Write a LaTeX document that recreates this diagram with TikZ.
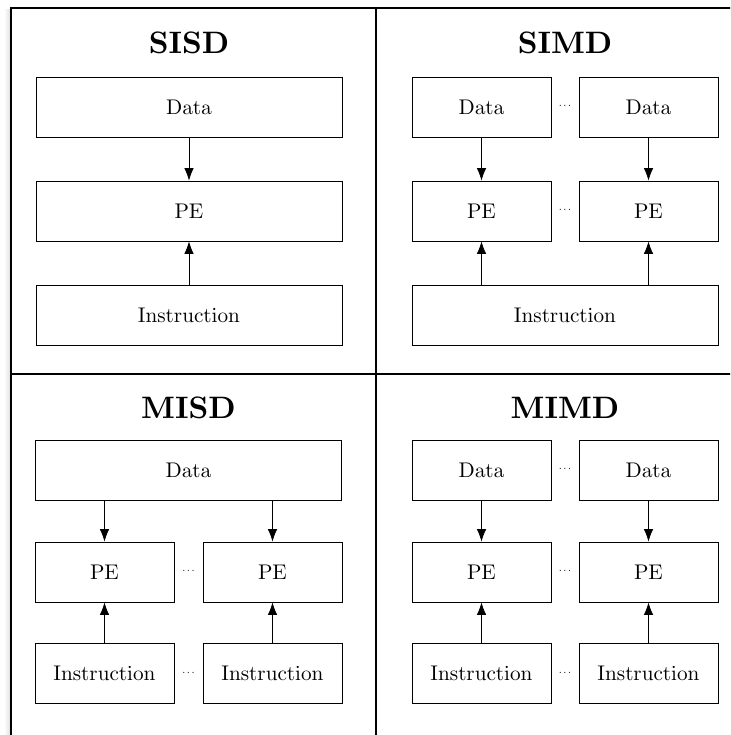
\documentclass[tikz,border=0pt]{standalone}
\usetikzlibrary{arrows.meta}
% 10pt designs scaled up, for the labels, headings and gap dots
\font\labelfont=cmr10 at 21.2pt
\font\headfont=cmbx10 at 31pt
\font\dotfont=cmr10 at 11pt
\newcommand{\gapdots}{.\kern1.6pt.\kern1.6pt.}
\begin{document}
\begin{tikzpicture}[x=1pt,y=-1pt,
  box/.style={draw, line width=0.8pt, inner sep=0pt, font=\labelfont},
  wide/.style={box, minimum width=306pt, minimum height=60pt},
  narrow/.style={box, minimum width=139pt, minimum height=60pt},
  flow/.style={-{Latex[length=12.5pt,width=9.5pt]}, line width=0.8pt},
  gap/.style={font=\dotfont, inner sep=0pt},
  heading/.style={font=\headfont, inner sep=0pt},
  frame/.style={line width=2pt},
]
\useasboundingbox (0,0) rectangle (730,735);
\clip (0,0) rectangle (730,735);

% soft shadow along the left edge of the frame
\shade[left color=white, right color=black!12] (4,10) rectangle (10,735);

% outer frame and quadrant dividers
\draw[frame] (11,760) -- (11,8) -- (760,8);
\draw[frame] (376,8) -- (376,760);
\draw[frame] (11,374) -- (760,374);

% ---------- SISD ----------
\node[heading] (sisd) at (189,42.5) {SISD};
\node[wide] (sd) at (189,107) {Data};
\node[wide] (sp) at (189,211) {PE};
\node[wide] (si) at (189,315) {Instruction};
\draw[flow] (sd.south) -- (sp.north);
\draw[flow] (si.north) -- (sp.south);

% ---------- SIMD ----------
\node[heading] (simd) at (565,42.5) {SIMD};
\node[narrow] (md1) at (481.5,107) {Data};
\node[narrow] (md2) at (648.5,107) {Data};
\node[gap] (mdg) at (565,106) {\gapdots};
\node[narrow] (mp1) at (481.5,211) {PE};
\node[narrow] (mp2) at (648.5,211) {PE};
\node[gap] (mpg) at (565,210) {\gapdots};
\node[wide] (mi) at (565,315) {Instruction};
\draw[flow] (md1.south) -- (mp1.north);
\draw[flow] (md2.south) -- (mp2.north);
\draw[flow] (mi.north -| mp1) -- (mp1.south);
\draw[flow] (mi.north -| mp2) -- (mp2.south);

% ---------- MISD ----------
\node[heading] (misd) at (188.5,408) {MISD};
\node[wide] (xd) at (188.5,470) {Data};
\node[narrow] (xp1) at (104.5,572) {PE};
\node[narrow] (xp2) at (272.5,572) {PE};
\node[gap] (xpg) at (188.5,571) {\gapdots};
\node[narrow] (xi1) at (104.5,673.5) {Instruction};
\node[narrow] (xi2) at (272.5,673.5) {Instruction};
\node[gap] (xig) at (188.5,672.5) {\gapdots};
\draw[flow] (xd.south -| xp1) -- (xp1.north);
\draw[flow] (xd.south -| xp2) -- (xp2.north);
\draw[flow] (xi1.north) -- (xp1.south);
\draw[flow] (xi2.north) -- (xp2.south);

% ---------- MIMD ----------
\node[heading] (mimd) at (565,408) {MIMD};
\node[narrow] (yd1) at (481.5,470) {Data};
\node[narrow] (yd2) at (648.5,470) {Data};
\node[gap] (ydg) at (565,469) {\gapdots};
\node[narrow] (yp1) at (481.5,572) {PE};
\node[narrow] (yp2) at (648.5,572) {PE};
\node[gap] (ypg) at (565,571) {\gapdots};
\node[narrow] (yi1) at (481.5,673.5) {Instruction};
\node[narrow] (yi2) at (648.5,673.5) {Instruction};
\node[gap] (yig) at (565,672.5) {\gapdots};
\draw[flow] (yd1.south) -- (yp1.north);
\draw[flow] (yd2.south) -- (yp2.north);
\draw[flow] (yi1.north) -- (yp1.south);
\draw[flow] (yi2.north) -- (yp2.south);
\end{tikzpicture}
\end{document}
